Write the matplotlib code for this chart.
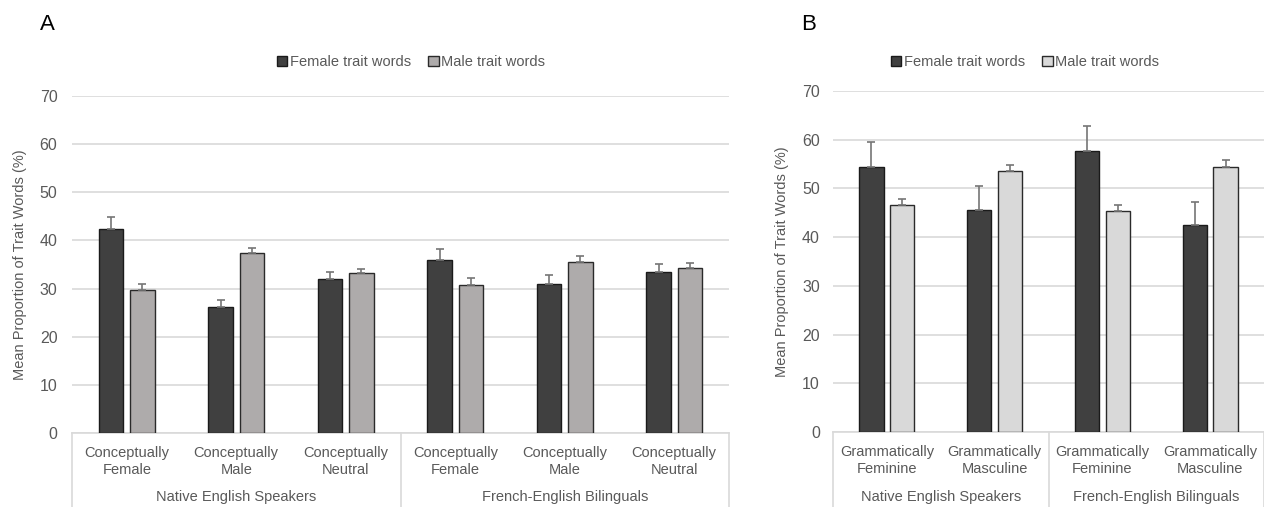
import numpy as np
import matplotlib
matplotlib.use('Agg')
from matplotlib import pyplot as plt
from matplotlib.patches import Patch
import matplotlib.transforms as mtransforms

plt.rcParams['font.family'] = ['Liberation Sans', 'DejaVu Sans']

# panel A data
cats_a = ['Conceptually\nFemale', 'Conceptually\nMale', 'Conceptually\nNeutral'] * 2
female_a = [42.3, 26.1, 32.0, 36.0, 30.9, 33.5]
female_a_err = [2.5, 1.6, 1.5, 2.2, 2.0, 1.7]
male_a = [29.7, 37.4, 33.3, 30.7, 35.5, 34.2]
male_a_err = [1.2, 1.0, 0.8, 1.5, 1.2, 1.1]

# panel B data
cats_b = ['Grammatically\nFeminine', 'Grammatically\nMasculine'] * 2
female_b = [54.5, 45.5, 57.7, 42.4]
female_b_err = [5.0, 5.1, 5.1, 4.9]
male_b = [46.5, 53.5, 45.4, 54.5]
male_b_err = [1.3, 1.4, 1.2, 1.3]

groups = ['Native English Speakers', 'French-English Bilinguals']
series = ['Female trait words', 'Male trait words']

W, H = 1264, 507
fig = plt.figure(figsize=(W / 100, H / 100), dpi=100)

txt = '#595959'
grid = '#d9d9d9'
dark = '#404040'


def panel(rect, cats, fem, fem_err, mal, mal_err, male_col, letter, legend_x, ypad):
	l, t, r, b = rect
	ax = fig.add_axes([l / W, (H - b) / H, (r - l) / W, (b - t) / H])
	n = len(cats)
	x = np.arange(n) + 0.5
	bw = 0.225
	ekw = dict(ecolor='#767676', elinewidth=1.2, capsize=3, capthick=1.2)
	ax.bar(x - 0.143, fem, bw, color=dark, edgecolor='#1a1a1a', linewidth=1,
		   yerr=[np.zeros(n), fem_err], error_kw=ekw, zorder=3, label=series[0])
	ax.bar(x + 0.143, mal, bw, color=male_col, edgecolor='#2a2a2a', linewidth=1,
		   yerr=[np.zeros(n), mal_err], error_kw=ekw, zorder=3, label=series[1])
	ax.set_xlim(0, n)
	ax.set_ylim(0, 70)
	ax.set_yticks(range(0, 71, 10))
	ax.yaxis.grid(True, color=grid, linewidth=1.2)
	ax.set_axisbelow(True)
	for s in ['top', 'right', 'left']:
		ax.spines[s].set_visible(False)
	ax.spines['bottom'].set_color(grid)
	ax.spines['bottom'].set_linewidth(1.2)
	ax.set_xticks(x)
	ax.set_xticklabels(cats, color=txt, fontsize=10.5, linespacing=1.3)
	ax.tick_params(axis='x', length=0, pad=9.5)
	ax.tick_params(axis='y', length=0, labelsize=11.5, labelcolor=txt, pad=ypad)
	ax.set_ylabel('Mean Proportion of Trait Words (%)', color=txt, fontsize=10.5, labelpad=9)

	# group labels and divider lines under the axis
	tr = mtransforms.blended_transform_factory(ax.transData, ax.transAxes)
	depth = (H - b) / (b - t)
	for xd in [0, n / 2, n]:
		ax.plot([xd, xd], [0, -depth], color=grid, lw=1.2, transform=tr, clip_on=False)
	for i, g in enumerate(groups):
		ax.text(n / 4 + i * n / 2, -(497 - b) / (b - t), g,
				transform=tr, ha='center', va='center', color=txt, fontsize=10.5)

	handles = [Patch(facecolor=dark, edgecolor='#1a1a1a'),
			   Patch(facecolor=male_col, edgecolor='#2a2a2a')]
	fig.legend(handles, series, loc='center', bbox_to_anchor=(legend_x / W, 1 - 62 / H),
			   ncol=2, frameon=False, fontsize=10.5, labelcolor=txt,
			   handlelength=0.7, handleheight=0.7, handletextpad=0.2, columnspacing=1.2)
	fig.text((l - 32) / W, 1 - 24 / H, letter, fontsize=16, ha='left', va='center')
	return ax


panel((72, 96, 729, 433), cats_a, female_a, female_a_err, male_a, male_a_err,
	  '#aeabab', 'A', 411, 10.5)
panel((833, 91, 1264, 432), cats_b, female_b, female_b_err, male_b, male_b_err,
	  '#d9d9d9', 'B', 1025, 9.5)

fig.savefig('out.png', dpi=100)
